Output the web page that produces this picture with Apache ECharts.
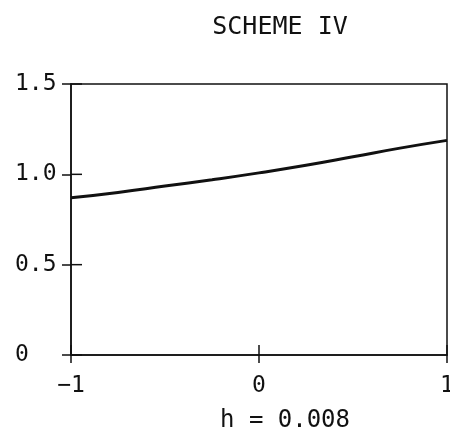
<!DOCTYPE html>
<html lang="en">
<head>
    <meta charset="UTF-8">
    <title>Scheme IV</title>
    <script src="https://cdn.jsdelivr.net/npm/echarts@6/dist/echarts.min.js"></script>
    <style>
        body { margin: 0; background: #fff; }
        #chart { width: 450px; height: 430px; }
    </style>
</head>
<body>
    <div id="chart"></div>
    <script>
        // values
        const xValues = [-1, -0.75, -0.5, -0.25, 0, 0.25, 0.5, 0.75, 1];
        const yValues = [0.870, 0.900, 0.935, 0.970, 1.008, 1.050, 1.097, 1.145, 1.188];
        const xTicks = [-1, 0, 1];
        const yTicks = [0, 0.5, 1, 1.5];
        const xTickLabels = ['\u22121', '0', '1'];
        const yTickLabels = ['0', '0.5', '1.0', '1.5'];

        const font = 'DejaVu Sans Mono';
        const ink = '#111';

        const chart = echarts.init(document.getElementById('chart'));

        const lineStyle = { color: ink, width: 1.5 };

        chart.setOption({
            animation: false,
            title: [
                {
                    text: 'SCHEME IV',
                    left: 275, top: 10, textAlign: 'center',
                    textStyle: { fontFamily: font, fontSize: 25, fontWeight: 'normal', color: ink }
                },
                {
                    text: 'h = 0.008',
                    left: 280, top: 404, textAlign: 'center',
                    textStyle: { fontFamily: font, fontSize: 24, fontWeight: 'normal', color: ink }
                }
            ],
            grid: {
                left: 71, right: 3, top: 84, bottom: 75,
                outerBoundsMode: 'none',
                show: true, borderColor: ink, borderWidth: 1.5
            },
            xAxis: {
                type: 'value', min: -1, max: 1, interval: 1,
                axisLine: { onZero: false, lineStyle: lineStyle },
                axisTick: { length: 8, lineStyle: lineStyle },
                splitLine: { show: false },
                axisLabel: {
                    margin: 20, fontFamily: font, fontSize: 23, color: ink,
                    formatter: v => xTickLabels[xTicks.indexOf(v)]
                }
            },
            yAxis: {
                type: 'value', min: 0, max: 1.5, interval: 0.5,
                axisLine: { show: true, onZero: false, lineStyle: lineStyle },
                axisTick: { show: true, length: 9, lineStyle: lineStyle },
                splitLine: { show: false },
                axisLabel: {
                    margin: 56, align: 'left', fontFamily: font, fontSize: 23, color: ink,
                    formatter: v => yTickLabels[yTicks.indexOf(v)]
                }
            },
            series: [{
                type: 'line',
                data: xValues.map((x, i) => [x, yValues[i]]),
                smooth: true,
                showSymbol: false,
                lineStyle: { color: ink, width: 3 }
            }]
        });

        // the plotter ticks cross the axis: add the inner half of each tick
        const inner = [];
        yTicks.forEach(v => {
            const p = chart.convertToPixel({ gridIndex: 0 }, [xTicks[0], v]);
            inner.push({ type: 'line', shape: { x1: p[0], y1: p[1], x2: p[0] + 11, y2: p[1] }, style: { stroke: ink, lineWidth: 1.5 } });
        });
        xTicks.forEach(v => {
            const p = chart.convertToPixel({ gridIndex: 0 }, [v, yTicks[0]]);
            inner.push({ type: 'line', shape: { x1: p[0], y1: p[1], x2: p[0], y2: p[1] - 10 }, style: { stroke: ink, lineWidth: 1.5 } });
        });
        chart.setOption({ graphic: inner });
    </script>
</body>
</html>
